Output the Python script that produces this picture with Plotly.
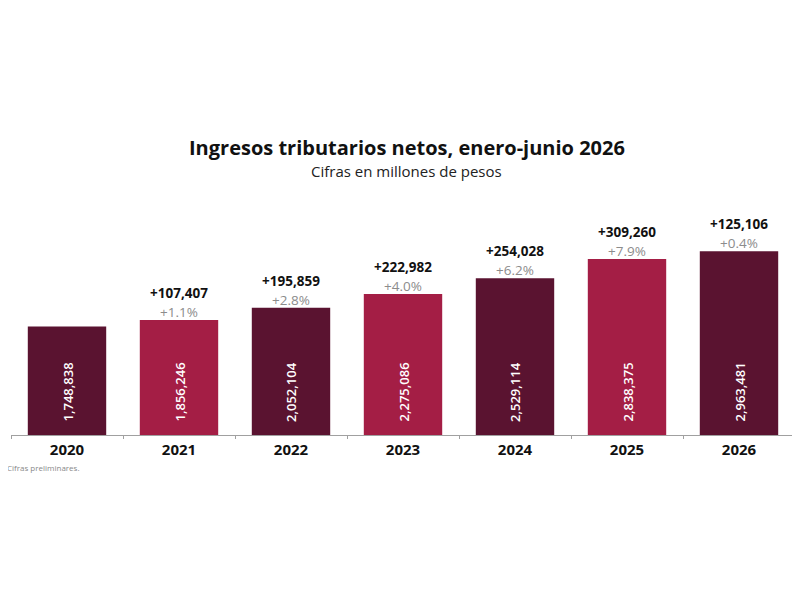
import plotly.graph_objects as go

# Ingresos tributarios netos, enero-junio (millones de pesos)
years = ["2020", "2021", "2022", "2023", "2024", "2025", "2026"]
values = [1748838, 1856246, 2052104, 2275086, 2529114, 2838375, 2963481]
deltas = [None, "+107,407", "+195,859", "+222,982", "+254,028", "+309,260", "+125,106"]
pcts = [None, "+1.1%", "+2.8%", "+4.0%", "+6.2%", "+7.9%", "+0.4%"]

DARK = "#5a1330"
LIGHT = "#a41e45"
bar_colors = [DARK, LIGHT, DARK, LIGHT, DARK, LIGHT, DARK]

FONT = "Open Sans"
PLOT_H = 235  # px height of the plotting area

fig = go.Figure()
fig.add_trace(
    go.Bar(
        x=years,
        y=values,
        marker=dict(color=bar_colors, line=dict(width=0)),
        hoverinfo="skip",
    )
)

annotations = []
for i, (v, d, p) in enumerate(zip(values, deltas, pcts)):
    # value inside the bar, rotated
    annotations.append(dict(
        x=i, y=0, xref="x", yref="y",
        text=f"{v:,}", textangle=-90,
        showarrow=False, yanchor="bottom", yshift=11,
        font=dict(family=FONT, size=13, color="white", weight=600),
    ))
    if d:
        annotations.append(dict(
            x=i, y=v, xref="x", yref="y", text=p,
            showarrow=False, yanchor="bottom", yshift=-2, borderpad=0,
            font=dict(family=FONT, size=13.5, color="#8c8c8c"),
        ))
        annotations.append(dict(
            x=i, y=v, xref="x", yref="y", text=d,
            showarrow=False, yanchor="bottom", yshift=17, borderpad=0,
            font=dict(family=FONT, size=13.5, color="#111111", weight="bold"),
        ))

annotations += [
    dict(text="<b>Ingresos tributarios netos, enero-junio 2026</b>",
         x=0.505, y=1 + 53 / PLOT_H, xref="paper", yref="paper",
         showarrow=False, yanchor="middle",
         font=dict(family=FONT, size=20, color="#111111")),
    dict(text="Cifras en millones de pesos",
         x=0.505, y=1 + 29 / PLOT_H, xref="paper", yref="paper",
         showarrow=False, yanchor="middle",
         font=dict(family=FONT, size=15, color="#222222")),
    dict(text="Cifras preliminares.",
         x=-0.008, y=-32 / PLOT_H, xref="paper", yref="paper",
         showarrow=False, xanchor="left", yanchor="middle",
         font=dict(family=FONT, size=8, color="#888888")),
]

fig.update_layout(
    width=800,
    height=600,
    margin=dict(l=3, r=13, t=192, b=600 - 192 - PLOT_H),
    paper_bgcolor="white",
    plot_bgcolor="white",
    bargap=0.3,
    showlegend=False,
    annotations=annotations,
    xaxis=dict(
        type="category",
        range=[-0.5, 6.5],
        showline=True, linecolor="#a0a0a0", linewidth=1,
        ticks="outside", tickson="boundaries", ticklen=3, tickcolor="#a0a0a0",
        ticklabelstandoff=1,
        tickfont=dict(family=FONT, size=15, color="#111111", weight="bold"),
        showgrid=False, fixedrange=True,
    ),
    yaxis=dict(
        range=[0, 3790000],
        visible=False, showgrid=False, zeroline=False, fixedrange=True,
    ),
)

fig.write_html("out.html")
